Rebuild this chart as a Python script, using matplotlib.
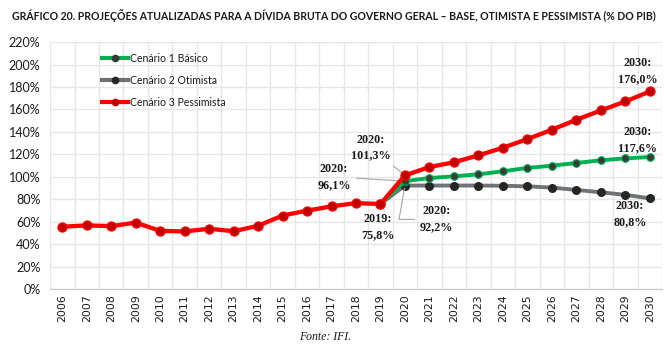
import matplotlib
matplotlib.use("Agg")
import matplotlib.pyplot as plt
from matplotlib.lines import Line2D
import numpy as np

years = list(range(2006, 2031))
hist_years = list(range(2006, 2020))
hist = [55.5, 56.7, 56.0, 59.2, 51.8, 51.3, 53.7, 51.5, 56.3, 65.5, 69.8, 73.7, 76.5, 75.8]
proj_years = list(range(2019, 2031))
basico = [75.8, 96.1, 98.9, 100.4, 102.2, 104.9, 107.9, 109.9, 112.3, 114.7, 116.4, 117.6]
otimista = [75.8, 92.2, 92.2, 92.2, 92.2, 92.0, 91.5, 90.4, 88.3, 86.2, 83.9, 80.8]
pessimista = [75.8, 101.3, 108.7, 112.9, 119.1, 125.9, 133.6, 141.9, 150.8, 159.1, 167.1, 176.0]
yticks = list(range(0, 221, 20))

title = "GRÁFICO 20. PROJEÇÕES ATUALIZADAS PARA A DÍVIDA BRUTA DO GOVERNO GERAL – BASE, OTIMISTA E PESSIMISTA (% DO PIB)"
legend_labels = ["Cenário 1 Básico", "Cenário 2 Otimista", "Cenário 3 Pessimista"]

GREEN = "#00B050"
GRAY = "#6E7378"
RED = "#FF0000"
TXT = "#1a1a1a"

fig = plt.figure(figsize=(6.68, 3.51), dpi=100)
ax = fig.add_axes([0.0749, 0.1766, 0.9161, 0.7034])

ax.plot(proj_years, otimista, color=GRAY, lw=2.8, marker="o", ms=5.5,
        mfc="#262626", mec="#262626", zorder=3, solid_joinstyle="round")
ax.plot(proj_years, basico, color=GREEN, lw=2.8, marker="o", ms=5.5,
        mfc="#3a3a3a", mec=GREEN, mew=0.8, zorder=4, solid_joinstyle="round")
ax.plot(hist_years, hist, color=RED, lw=3.1, marker="o", ms=6.6,
        mfc="#C00000", mec=RED, mew=0.8, zorder=5, solid_joinstyle="round")
ax.plot(proj_years, pessimista, color=RED, lw=3.1, marker="o", ms=6.6,
        mfc="#C00000", mec=RED, mew=0.8, zorder=5, solid_joinstyle="round")

ax.set_xlim(2005.5, 2030.5)
ax.set_ylim(0, 220)
ax.set_yticks(yticks)
ax.set_yticklabels([f"{v}%" for v in yticks], fontsize=9, color=TXT, family="Lato")
ax.set_xticks(years)
ax.set_xticklabels([str(y) for y in years], rotation=90, fontsize=7.8, color=TXT, family="DejaVu Sans")
ax.set_xticks(np.arange(2005.5, 2031, 1), minor=True)
ax.tick_params(axis="y", which="both", length=0, pad=7)
ax.tick_params(axis="x", which="both", length=0, pad=4)
ax.grid(True, axis="y", color="#e6e6e6", lw=1)
ax.grid(True, axis="x", which="minor", color="#e6e6e6", lw=1)
ax.set_axisbelow(True)
for s in ["left", "right", "top"]:
    ax.spines[s].set_visible(False)
ax.spines["bottom"].set_color("#c8c8c8")

handles = [
    Line2D([], [], color=GREEN, lw=3, marker="o", ms=4.5, mfc="#3a3a3a", mec="#3a3a3a"),
    Line2D([], [], color=GRAY, lw=3, marker="o", ms=4.5, mfc="#262626", mec="#262626"),
    Line2D([], [], color=RED, lw=3, marker="o", ms=4.5, mfc="#C00000", mec="#C00000"),
]
leg = ax.legend(handles, legend_labels, loc="upper left", bbox_to_anchor=(0.069, 0.995),
                frameon=False, handlelength=2.5, handletextpad=0.15,
                labelspacing=1.05, prop={"family": "Lato", "size": 7.6})
for t in leg.get_texts():
    t.set_color(TXT)

lab = dict(fontsize=8.7, fontweight="bold", family="Liberation Serif", color=TXT,
           ha="center", va="center", linespacing=1.45)
arrow = dict(arrowstyle="-", color="#a6a6a6", lw=0.8)

ax.annotate("2020:\n101,3%", xy=(2020, 101.3), xytext=(2018.6, 126), arrowprops=arrow, **lab)
ax.annotate("2020:\n96,1%", xy=(2020, 96.1), xytext=(2017.1, 100), arrowprops=arrow, **lab)
ax.annotate("2019:\n75,8%", xy=(2019, 75.8), xytext=(2018.9, 55), arrowprops=arrow, **lab)
ax.annotate("2020:\n92,2%", xy=(2020, 92.2), xytext=(2021.3, 62),
            arrowprops=dict(arrowstyle="-", color="#a6a6a6", lw=0.8,
                            connectionstyle="angle,angleA=0,angleB=80,rad=0"), **lab)
ax.text(2029.5, 194, "2030:\n176,0%", **lab)
ax.text(2029.5, 133, "2030:\n117,6%", **lab)
ax.text(2029.2, 67, "2030:\n80,8%", **lab)

fig.text(0.5, 0.955, title, ha="center", va="center", fontsize=7.6,
         fontweight="bold", family="Lato", color=TXT)
fig.text(0.487, 0.04, "Fonte: IFI.", ha="center", va="center", fontsize=8.5,
         style="italic", family="Liberation Serif", color=TXT)

fig.savefig("out.png", dpi=100)
